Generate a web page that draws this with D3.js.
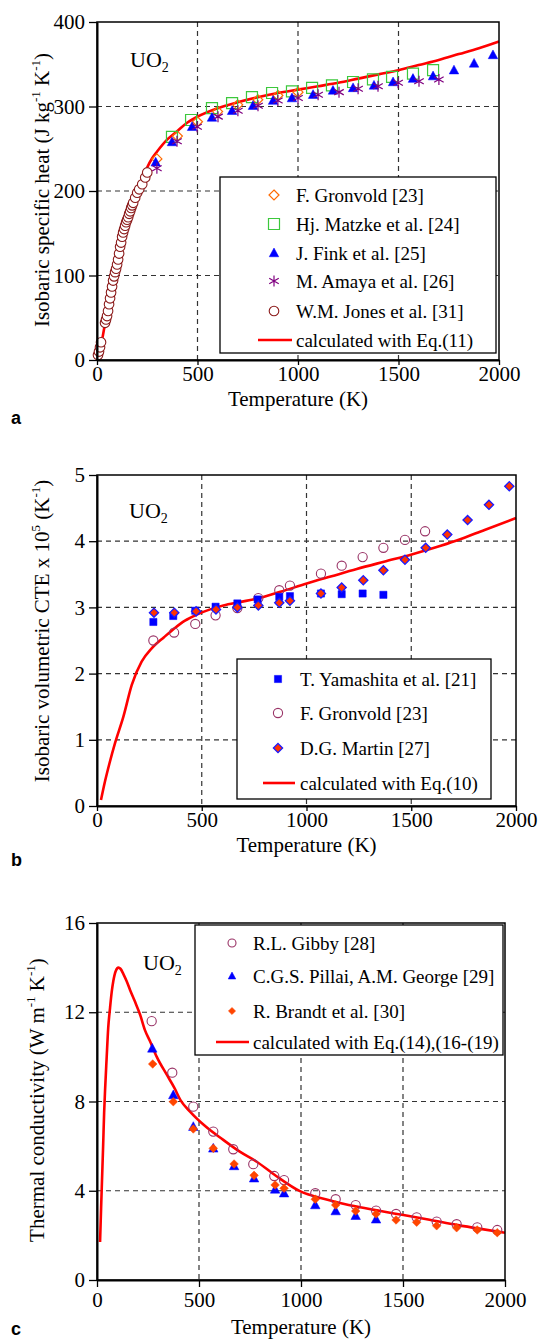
<!DOCTYPE html>
<html><head><meta charset="utf-8">
<script src="https://cdn.jsdelivr.net/npm/d3@7"></script>
<style>body{margin:0;background:#fff}svg{display:block}</style>
</head><body>
<svg id="fig" width="542" height="1340"></svg>
<script>
// ---------- shared ----------
const xTicks = [0, 500, 1000, 1500, 2000];

// ---------- panel a : specific heat ----------
const cpTicks = [0, 100, 200, 300, 400];
const cpCalc = [[20,17],[30,30],[40,43],[50,54],[60,66],[80,91],[100,114],[120,136],[140,156],[160,172],[180,186],[200,199],[225,214],[250,228],[275,239],[300,247],[350,261],[400,271],[450,281],[500,288],[600,298],[700,305],[800,311],[900,316],[1000,320],[1100,324],[1200,328],[1300,333],[1400,338],[1500,343],[1600,349],[1700,355],[1800,362],[1900,369],[2000,377]];
const cpGronvold = [[298,238],[400,265],[500,282],[600,294],[700,302],[800,308],[900,313],[1000,317]];
const cpMatzke = [[373,264],[468,284],[572,298],[672,304],[771,311],[871,316],[970,318],[1070,322],[1169,325],[1274,329],[1373,332],[1468,335],[1572,339],[1672,343]];
const cpFink = [[292,234],[373,258],[473,276],[572,287],[672,295],[776,301],[876,307],[970,310],[1075,314],[1174,319],[1274,322],[1378,325],[1473,329],[1572,333],[1672,336],[1776,343],[1876,351],[1970,361]];
const cpAmaya = [[298,227],[398,259],[498,276],[602,288],[701,295],[801,301],[900,307],[1000,310],[1100,314],[1204,317],[1299,321],[1398,324],[1498,328],[1602,330],[1701,332]];
const cpJones = [[5,6],[10,10],[15,15],[20,21],[40,44],[45,48],[50,52],[55,58],[60,66],[65,73],[70,80],[75,87],[80,94],[85,99],[90,104],[95,108],[100,113],[105,119],[110,126],[115,134],[120,139],[125,146],[130,151],[135,155],[140,159],[145,163],[150,166],[155,169],[160,173],[165,176],[170,180],[175,183],[180,186],[190,192],[200,198],[210,202],[225,208],[240,216],[250,222]];
const cpLegend = ["F. Gronvold [23]", "Hj. Matzke et al. [24]", "J. Fink et al. [25]", "M. Amaya et al. [26]", "W.M. Jones et al. [31]", "calculated with Eq.(11)"];

// ---------- panel b : volumetric CTE ----------
const cteTicks = [0, 1, 2, 3, 4, 5];
const cteCalc = [[19,0.09],[38,0.37],[60,0.65],[86,0.95],[126,1.35],[166,1.83],[213,2.18],[261,2.38],[320,2.55],[372,2.69],[420,2.80],[476,2.89],[540,2.97],[603,3.03],[680,3.08],[762,3.13],[880,3.24],[1001,3.36],[1120,3.47],[1240,3.58],[1370,3.69],[1502,3.80],[1610,3.90],[1717,4.01],[1850,4.17],[2000,4.35]];
const cteYamashita = [[269,2.78],[364,2.87],[469,2.95],[566,3.01],[670,3.06],[767,3.12],[870,3.16],[921,3.17],[1069,3.21],[1168,3.20],[1268,3.21],[1367,3.19]];
const cteGronvold = [[269,2.50],[368,2.62],[469,2.75],[566,2.88],[670,2.99],[770,3.14],[870,3.26],[921,3.33],[1069,3.51],[1168,3.63],[1268,3.76],[1367,3.90],[1470,4.02],[1566,4.15]];
const cteMartin = [[272,2.92],[369,2.92],[473,2.94],[568,2.97],[670,3.00],[770,3.03],[870,3.07],[921,3.10],[1069,3.21],[1168,3.30],[1271,3.41],[1367,3.56],[1470,3.72],[1569,3.90],[1672,4.10],[1769,4.32],[1871,4.55],[1968,4.83]];
const cteLegend = ["T. Yamashita et al. [21]", "F. Gronvold [23]", "D.G. Martin [27]", "calculated with Eq.(10)"];

// ---------- panel c : thermal conductivity ----------
const kTicks = [0, 4, 8, 12, 16];
const kCalc = [[15,1.7],[20,3.2],[25,4.6],[30,6.0],[35,7.5],[40,8.6],[47,9.9],[55,11.3],[64,12.2],[72,12.9],[80,13.4],[92,13.85],[105,14.0],[115,13.95],[130,13.7],[145,13.4],[162,13.0],[185,12.5],[211,11.9],[235,11.2],[260,10.7],[293,10.0],[342,9.2],[380,8.6],[410,8.05],[456,7.55],[530,6.9],[619,6.28],[700,5.75],[783,5.30],[880,4.65],[995,3.98],[1130,3.60],[1273,3.29],[1390,3.09],[1502,2.91],[1630,2.70],[1763,2.47],[1880,2.29],[2000,2.12]];
const kGibby = [[268,11.6],[369,9.29],[472,7.77],[570,6.65],[668,5.86],[766,5.19],[869,4.66],[917,4.48],[1070,3.89],[1170,3.62],[1268,3.36],[1368,3.11],[1466,2.96],[1567,2.81],[1665,2.62],[1763,2.50],[1864,2.36],[1962,2.24]];
const kPillai = [[271,10.38],[374,8.29],[472,6.87],[570,5.90],[672,5.11],[770,4.56],[873,4.06],[917,3.89],[1070,3.36],[1170,3.09],[1268,2.88],[1368,2.72]];
const kBrandt = [[273,9.68],[374,7.99],[472,6.77],[570,5.90],[672,5.20],[770,4.69],[873,4.26],[917,4.11],[1070,3.62],[1170,3.36],[1268,3.09],[1368,2.96],[1466,2.69],[1567,2.59],[1665,2.43],[1763,2.34],[1864,2.24],[1962,2.12]];
const kLegend = ["R.L. Gibby [28]", "C.G.S. Pillai, A.M. George [29]", "R. Brandt et al. [30]", "calculated with Eq.(14),(16-(19)"];

// ---------- drawing helpers ----------
const svg = d3.select("#fig");
const SERIF = "'Liberation Serif','Times New Roman',serif";
const RED = "#ff0000";

const shapes = {
  circle: r => `M${r},0A${r},${r} 0 1,1 ${-r},0A${r},${r} 0 1,1 ${r},0Z`,
  square: r => `M${-r},${-r}H${r}V${r}H${-r}Z`,
  diamond: r => `M0,${-r}L${r},0L0,${r}L${-r},0Z`,
  triangle: r => `M0,${-r}L${r*0.95},${r*0.75}L${-r*0.95},${r*0.75}Z`,
  asterisk: r => { const a = r*Math.cos(Math.PI/6), b = r*0.5;
    return `M0,${-r}V${r}M${-a},${-b}L${a},${b}M${-a},${b}L${a},${-b}`; }
};

function marker(g, x, y, st) {
  g.append("path").attr("transform", `translate(${x},${y})`)
    .attr("d", shapes[st.shape](st.r))
    .attr("fill", st.fill).attr("stroke", st.stroke)
    .attr("stroke-width", st.sw);
}

function panel(o) {
  const g = svg.append("g");
  const x = d3.scaleLinear().domain([0, 2000]).range([o.l, o.r]);
  const y = d3.scaleLinear().domain([0, o.ymax]).range([o.b, o.t]);

  // grid
  const grid = g.append("g").attr("stroke", "#333").attr("stroke-width", 1.2).attr("stroke-dasharray", "5,4");
  grid.selectAll(".v").data(xTicks.slice(1, -1)).join("line")
    .attr("x1", d => x(d)).attr("x2", d => x(d)).attr("y1", o.t).attr("y2", o.b);
  grid.selectAll(".h").data(o.yTicks.slice(1, -1)).join("line")
    .attr("y1", d => y(d)).attr("y2", d => y(d)).attr("x1", o.l).attr("x2", o.r);

  // curve
  g.append("path").datum(o.calc)
    .attr("d", d3.line().x(d => x(d[0])).y(d => y(d[1])).curve(d3.curveMonotoneX))
    .attr("fill", "none").attr("stroke", RED).attr("stroke-width", 2.6);

  // series
  o.series.forEach(s => {
    s.data.forEach(d => marker(g, x(d[0]), y(d[1]), s.style));
  });

  // legend
  const L = o.legend;
  g.append("rect").attr("x", L.x0).attr("y", L.y0).attr("width", L.x1 - L.x0).attr("height", L.y1 - L.y0)
    .attr("fill", "#fff").attr("stroke", "#000").attr("stroke-width", 1.3);
  o.legendLabels.forEach((lab, i) => {
    const yy = L.rows[i];
    const s = o.series.find(q => q.li === i);
    if (s) {
      marker(g, L.sx, yy, s.legendStyle || s.style);
    } else {
      g.append("line").attr("x1", L.lx0).attr("x2", L.lx1).attr("y1", yy).attr("y2", yy)
        .attr("stroke", RED).attr("stroke-width", 2.6);
    }
    g.append("text").attr("x", L.tx).attr("y", yy + 6.5).text(lab)
      .attr("font-family", SERIF).attr("font-size", 19).attr("fill", "#000");
  });

  // frame
  g.append("rect").attr("x", o.l).attr("y", o.t).attr("width", o.r - o.l).attr("height", o.b - o.t)
    .attr("fill", "none").attr("stroke", "#000").attr("stroke-width", 1.5);

  // axes
  const ax = g.append("g").attr("transform", `translate(0,${o.b})`)
    .call(d3.axisBottom(x).tickValues(xTicks).tickSize(o.xts).tickSizeOuter(0).tickPadding(o.xtp).tickFormat(d3.format("d")));
  const ay = g.append("g").attr("transform", `translate(${o.l},0)`)
    .call(d3.axisLeft(y).tickValues(o.yTicks).tickSize(8).tickSizeOuter(0).tickPadding(4).tickFormat(d3.format("d")));
  [ax, ay].forEach(a => {
    a.select(".domain").attr("stroke", "#000").attr("stroke-width", 2);
    a.selectAll(".tick line").attr("stroke", "#000").attr("stroke-width", 1.3);
    a.selectAll(".tick text").attr("font-family", SERIF).attr("font-size", 21).attr("fill", "#000");
  });

  // x title
  g.append("text").attr("x", (o.l + o.r) / 2).attr("y", o.xtY).attr("text-anchor", "middle")
    .attr("font-family", SERIF).attr("font-size", 21).text("Temperature (K)");

  // y title
  const yt = g.append("text").attr("transform", `translate(${o.ytX},${o.ytY}) rotate(-90)`)
    .attr("text-anchor", "middle").attr("font-family", SERIF).attr("font-size", 21);
  o.ytitle.forEach(p => {
    const t = yt.append("tspan").text(p.t);
    if (p.sup) t.attr("font-size", 13).attr("dy", -9);
    else if (p.after) t.attr("dy", 9);
  });

  // UO2 label
  const u = g.append("text").attr("x", o.uo[0]).attr("y", o.uo[1])
    .attr("font-family", SERIF).attr("font-size", 22);
  u.append("tspan").text("UO");
  u.append("tspan").text("2").attr("font-size", 14).attr("dy", 5);

  // panel letter
  g.append("text").attr("x", 11).attr("y", o.letY).text(o.letter)
    .attr("font-family", "'Liberation Sans',Arial,sans-serif").attr("font-weight", "bold").attr("font-size", 18);
}

// ---------- panel a ----------
panel({
  l: 97, r: 499, t: 22, b: 360, ymax: 400, yTicks: cpTicks, calc: cpCalc, xts: 5, xtp: 1,
  series: [
    {data: cpJones, li: 4, style: {shape: "circle", r: 4.8, fill: "#fff", stroke: "#8b1a1a", sw: 1.1}},
    {data: cpGronvold, li: 0, style: {shape: "diamond", r: 5, fill: "none", stroke: "#ff6a00", sw: 1.2}},
    {data: cpMatzke, li: 1, style: {shape: "square", r: 5.5, fill: "none", stroke: "#3cc83c", sw: 1.2}},
    {data: cpFink, li: 2, style: {shape: "triangle", r: 5, fill: "#0000ff", stroke: "#0000ff", sw: 0.5}},
    {data: cpAmaya, li: 3, style: {shape: "asterisk", r: 5.5, fill: "none", stroke: "#800080", sw: 1.2}}
  ],
  legend: {x0: 220, x1: 496, y0: 177, y1: 353, rows: [195, 224, 253, 281, 311, 340], sx: 274, tx: 296, lx0: 258, lx1: 292},
  legendLabels: cpLegend,
  xtY: 406, ytX: 49, ytY: 190,
  ytitle: [{t: "Isobaric specific heat (J kg"}, {t: "-1", sup: true}, {t: " K", after: true}, {t: "-1", sup: true}, {t: ")", after: true}],
  uo: [130, 67], letter: "a", letY: 424
});

// ---------- panel b ----------
panel({
  l: 97, r: 516, t: 475, b: 806, ymax: 5, yTicks: cteTicks, calc: cteCalc, xts: 5, xtp: 1,
  series: [
    {data: cteGronvold, li: 1, style: {shape: "circle", r: 4.6, fill: "none", stroke: "#993366", sw: 1.1}},
    {data: cteYamashita, li: 0, style: {shape: "square", r: 3.6, fill: "#0000ff", stroke: "#0000ff", sw: 0.5}},
    {data: cteMartin, li: 2, style: {shape: "diamond", r: 4.6, fill: "#ff3300", stroke: "#1a1aff", sw: 1.3}}
  ],
  legend: {x0: 237, x1: 491, y0: 659, y1: 799, rows: [679, 713, 748, 783], sx: 278, tx: 300, lx0: 263, lx1: 295},
  legendLabels: cteLegend,
  xtY: 852, ytX: 49, ytY: 631,
  ytitle: [{t: "Isobaric volumetric CTE x 10"}, {t: "5", sup: true}, {t: " (K", after: true}, {t: "-1", sup: true}, {t: ")", after: true}],
  uo: [129, 518], letter: "b", letY: 866
});

// ---------- panel c ----------
panel({
  l: 97, r: 505, t: 923, b: 1280, ymax: 16, yTicks: kTicks, calc: kCalc, xts: 7, xtp: 5,
  series: [
    {data: kGibby, li: 0, style: {shape: "circle", r: 4.6, fill: "none", stroke: "#993366", sw: 1.1}, legendStyle: {shape: "circle", r: 4, fill: "none", stroke: "#993366", sw: 1.1}},
    {data: kPillai, li: 1, style: {shape: "triangle", r: 5, fill: "#0000ff", stroke: "#0000ff", sw: 0.5}, legendStyle: {shape: "triangle", r: 4, fill: "#0000ff", stroke: "#0000ff", sw: 0.5}},
    {data: kBrandt, li: 2, style: {shape: "diamond", r: 4.3, fill: "#ff4500", stroke: "#ff4500", sw: 0.5}, legendStyle: {shape: "diamond", r: 3.6, fill: "#ff4500", stroke: "#ff4500", sw: 0.5}}
  ],
  legend: {x0: 195, x1: 503, y0: 925, y1: 1055, rows: [943, 976, 1011, 1042], sx: 232, tx: 253, lx0: 216, lx1: 249},
  legendLabels: kLegend,
  xtY: 1334, ytX: 44, ytY: 1100,
  ytitle: [{t: "Thermal conductivity (W m"}, {t: "-1", sup: true}, {t: " K", after: true}, {t: "-1", sup: true}, {t: ")", after: true}],
  uo: [143, 970], letter: "c", letY: 1335
});
</script>
</body></html>
